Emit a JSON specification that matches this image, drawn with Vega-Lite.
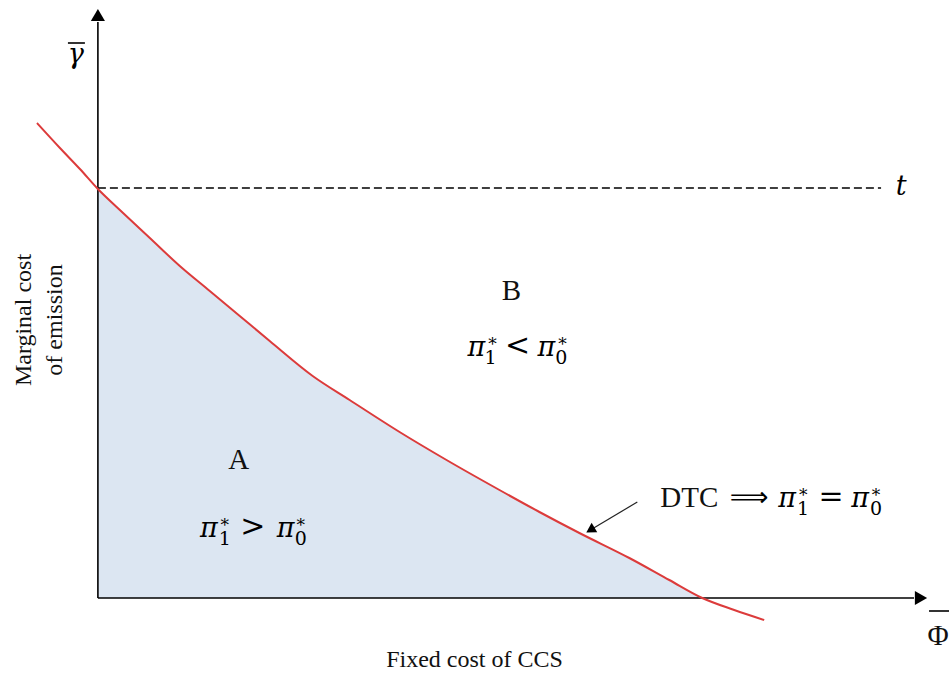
{
  "$schema": "https://vega.github.io/schema/vega-lite/v6.json",
  "width": 950,
  "height": 673,
  "autosize": {"type": "fit", "contains": "padding"},
  "padding": 0,
  "background": "white",
  "config": {"view": {"stroke": null}},
  "datasets": {
    "curve": [
      {"x": -0.61, "y": 4.75}, {"x": -0.38, "y": 4.50}, {"x": -0.18, "y": 4.29},
      {"x": 0.0, "y": 4.09}, {"x": 0.22, "y": 3.88}, {"x": 0.52, "y": 3.60},
      {"x": 0.82, "y": 3.32}, {"x": 1.12, "y": 3.07}, {"x": 1.42, "y": 2.82},
      {"x": 1.72, "y": 2.57}, {"x": 2.15, "y": 2.22}, {"x": 2.52, "y": 1.98},
      {"x": 3.02, "y": 1.66}, {"x": 3.49, "y": 1.38}, {"x": 4.02, "y": 1.08},
      {"x": 4.42, "y": 0.86}, {"x": 4.82, "y": 0.65}, {"x": 5.32, "y": 0.40},
      {"x": 5.72, "y": 0.18}, {"x": 6.05, "y": 0.0}, {"x": 6.37, "y": -0.12},
      {"x": 6.67, "y": -0.22}
    ],
    "axes": [
      {"x": 0, "y": 0, "x2": 0, "y2": 5.76},
      {"x": 0, "y": 0, "x2": 8.17, "y2": 0},
      {"x": -0.30, "y": 5.55, "x2": -0.13, "y2": 5.55},
      {"x": 8.32, "y": -0.13, "x2": 8.52, "y2": -0.13}
    ],
    "dashed": [{"x": 0, "y": 4.10, "x2": 7.84, "y2": 4.10}],
    "pointer": [{"x": 5.40, "y": 0.96, "x2": 4.93, "y2": 0.68}],
    "yarrow": [{"x": 0, "y": 5.83}],
    "xarrow": [{"x": 8.24, "y": 0}],
    "pointerhead": [{"x": 4.93, "y": 0.68}],
    "roman": [
      {"x": 4.14, "y": 2.98, "label": "B"},
      {"x": 1.41, "y": 1.29, "label": "A"},
      {"x": 5.92, "y": 0.91, "label": "DTC"},
      {"x": 8.41, "y": -0.47, "label": "Φ"}
    ],
    "italic": [
      {"x": 3.79, "y": 2.42, "label": "π"},
      {"x": 4.49, "y": 2.42, "label": "π"},
      {"x": 1.11, "y": 0.61, "label": "π"},
      {"x": 1.88, "y": 0.61, "label": "π"},
      {"x": 6.90, "y": 0.91, "label": "π"},
      {"x": 7.63, "y": 0.91, "label": "π"},
      {"x": 8.04, "y": 4.03, "label": "t"},
      {"x": -0.22, "y": 5.35, "label": "γ"}
    ],
    "stars": [
      {"x": 3.95, "y": 2.48, "label": "*"},
      {"x": 4.65, "y": 2.48, "label": "*"},
      {"x": 1.27, "y": 0.67, "label": "*"},
      {"x": 2.03, "y": 0.67, "label": "*"},
      {"x": 7.06, "y": 0.97, "label": "*"},
      {"x": 7.79, "y": 0.97, "label": "*"}
    ],
    "digits": [
      {"x": 3.93, "y": 2.34, "label": "1"},
      {"x": 4.64, "y": 2.34, "label": "0"},
      {"x": 1.27, "y": 0.53, "label": "1"},
      {"x": 2.03, "y": 0.53, "label": "0"},
      {"x": 7.06, "y": 0.83, "label": "1"},
      {"x": 7.79, "y": 0.83, "label": "0"}
    ],
    "ops": [
      {"x": 4.20, "y": 2.52, "label": "<"},
      {"x": 1.55, "y": 0.71, "label": ">"},
      {"x": 7.34, "y": 1.01, "label": "="}
    ],
    "arrowop": [
      {"x": 6.52, "y": 1.00, "label": "⟹"}
    ],
    "xtitle": [{"x": 3.77, "y": -0.69, "label": "Fixed cost of CCS"}],
    "ytitle": [
      {"x": -0.74, "y": 2.78, "label": "Marginal cost"},
      {"x": -0.43, "y": 2.78, "label": "of emission"}
    ]
  },
  "encoding": {
    "x": {"field": "x", "type": "quantitative", "axis": null, "scale": {"domain": [-0.98, 8.52], "nice": false, "zero": false}},
    "y": {"field": "y", "type": "quantitative", "axis": null, "scale": {"domain": [-0.75, 5.98], "nice": false, "zero": false}}
  },
  "layer": [
    {
      "data": {"name": "curve"},
      "transform": [{"filter": "datum.x >= 0 && datum.x <= 6.05"}],
      "mark": {"type": "area", "color": "#dce6f2", "opacity": 1, "interpolate": "monotone"},
      "encoding": {"y2": {"datum": 0}}
    },
    {
      "data": {"name": "dashed"},
      "mark": {"type": "rule", "color": "#000000", "strokeWidth": 1.3, "strokeDash": [8, 4]},
      "encoding": {"x2": {"field": "x2"}, "y2": {"field": "y2"}}
    },
    {
      "data": {"name": "axes"},
      "mark": {"type": "rule", "color": "#000000", "strokeWidth": 1.6},
      "encoding": {"x2": {"field": "x2"}, "y2": {"field": "y2"}}
    },
    {
      "data": {"name": "pointer"},
      "mark": {"type": "rule", "color": "#222222", "strokeWidth": 1.2},
      "encoding": {"x2": {"field": "x2"}, "y2": {"field": "y2"}}
    },
    {
      "data": {"name": "curve"},
      "mark": {"type": "line", "color": "#dc3b3b", "strokeWidth": 2, "interpolate": "monotone"},
      "encoding": {}
    },
    {
      "data": {"name": "yarrow"},
      "mark": {"type": "point", "shape": "triangle-up", "filled": true, "color": "#000000", "size": 200, "opacity": 1}
    },
    {
      "data": {"name": "xarrow"},
      "mark": {"type": "point", "shape": "triangle-right", "filled": true, "color": "#000000", "size": 200, "opacity": 1}
    },
    {
      "data": {"name": "pointerhead"},
      "mark": {"type": "point", "shape": "triangle-up", "angle": 239, "filled": true, "color": "#000000", "size": 120, "opacity": 1}
    },
    {
      "data": {"name": "roman"},
      "mark": {"type": "text", "font": "Liberation Serif", "fontSize": 29, "align": "center", "baseline": "alphabetic", "color": "#111111"},
      "encoding": {"text": {"field": "label"}}
    },
    {
      "data": {"name": "italic"},
      "mark": {"type": "text", "font": "DejaVu Serif", "fontStyle": "italic", "fontSize": 27, "align": "center", "baseline": "alphabetic", "color": "#000000"},
      "encoding": {"text": {"field": "label"}}
    },
    {
      "data": {"name": "stars"},
      "mark": {"type": "text", "font": "DejaVu Serif", "fontSize": 17, "align": "center", "baseline": "alphabetic", "color": "#000000"},
      "encoding": {"text": {"field": "label"}}
    },
    {
      "data": {"name": "digits"},
      "mark": {"type": "text", "font": "DejaVu Serif", "fontSize": 19, "align": "center", "baseline": "alphabetic", "color": "#000000"},
      "encoding": {"text": {"field": "label"}}
    },
    {
      "data": {"name": "ops"},
      "mark": {"type": "text", "font": "DejaVu Serif", "fontSize": 30, "align": "center", "baseline": "middle", "color": "#000000"},
      "encoding": {"text": {"field": "label"}}
    },
    {
      "data": {"name": "arrowop"},
      "mark": {"type": "text", "font": "DejaVu Sans", "fontSize": 27, "align": "center", "baseline": "middle", "color": "#000000"},
      "encoding": {"text": {"field": "label"}}
    },
    {
      "data": {"name": "xtitle"},
      "mark": {"type": "text", "font": "Liberation Serif", "fontSize": 24, "align": "center", "baseline": "alphabetic", "color": "#111111"},
      "encoding": {"text": {"field": "label"}}
    },
    {
      "data": {"name": "ytitle"},
      "mark": {"type": "text", "font": "Liberation Serif", "fontSize": 24, "align": "center", "baseline": "middle", "angle": 270, "color": "#111111"},
      "encoding": {"text": {"field": "label"}}
    }
  ]
}
